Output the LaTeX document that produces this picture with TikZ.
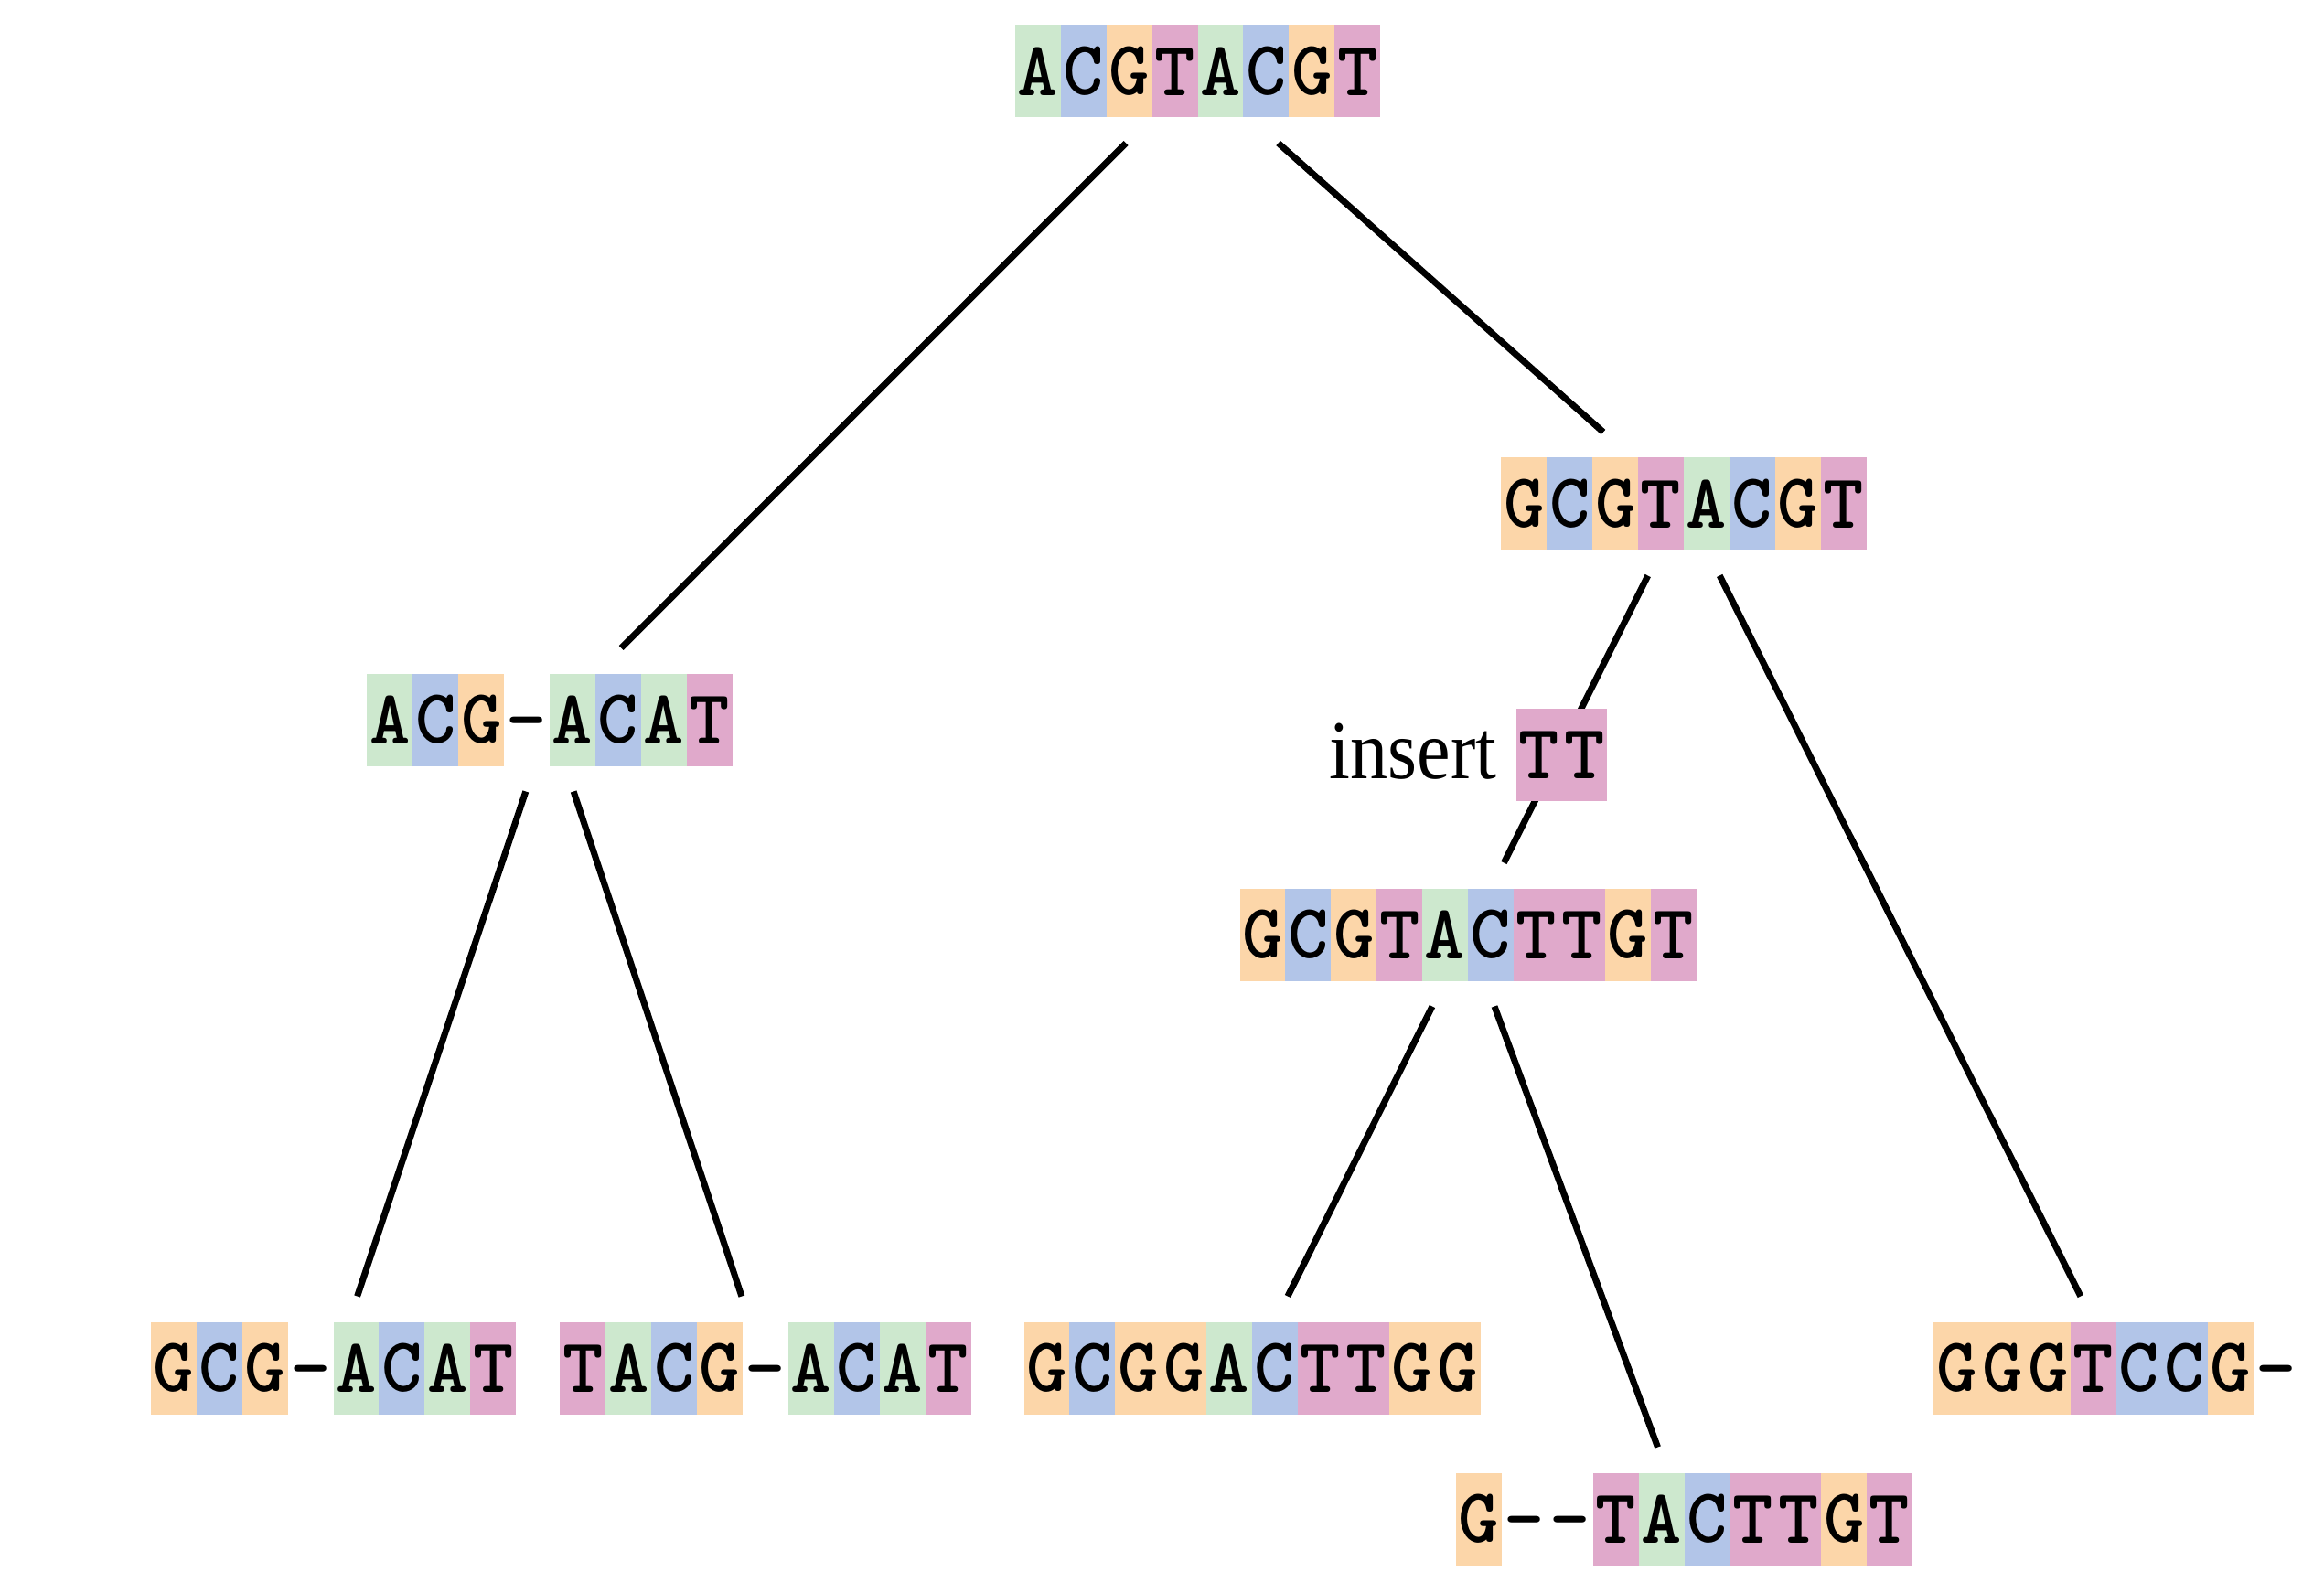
\documentclass[tikz,border=0pt]{standalone}
\usepackage{fontspec}
\newfontfamily\labelfont{Liberation Serif}
\usetikzlibrary{backgrounds}
\definecolor{cA}{RGB}{205,232,206}
\definecolor{cC}{RGB}{178,197,232}
\definecolor{cG}{RGB}{252,214,169}
\definecolor{cT}{RGB}{224,169,203}
\newlength\cellw \setlength\cellw{0.499cm}
\newlength\cellh \setlength\cellh{1.01cm}
\newcommand\seqcell[2]{{\setlength{\fboxsep}{0pt}\colorbox{#1}{\parbox[c][\cellh][c]{\cellw}{\centering\fontsize{24}{24}\selectfont\ttfamily\bfseries\vphantom{A}#2}}}}
\newcommand\seqA{\seqcell{cA}{A}}
\newcommand\seqC{\seqcell{cC}{C}}
\newcommand\seqG{\seqcell{cG}{G}}
\newcommand\seqT{\seqcell{cT}{T}}
\newcommand\seqGap{\seqcell{white}{-}}
\tikzset{
  seqnode/.style={inner sep=0pt, outer sep=0.28cm},
  tagnode/.style={inner sep=0pt, outer sep=0pt},
  edge/.style={line width=2pt, black},
  lbl/.style={inner sep=0pt, font=\labelfont\fontsize{26}{26}\selectfont}
}
\begin{document}
\begin{tikzpicture}
\useasboundingbox (0,0) rectangle (25.41,-17.41);
\node[seqnode] (top) at (13.095,-0.78) {\seqA\seqC\seqG\seqT\seqA\seqC\seqG\seqT};
\node[seqnode] (r2) at (18.41,-5.51) {\seqG\seqC\seqG\seqT\seqA\seqC\seqG\seqT};
\node[seqnode] (l2) at (6.01,-7.87) {\seqA\seqC\seqG\seqGap\seqA\seqC\seqA\seqT};
\node[seqnode] (m3) at (16.05,-10.22) {\seqG\seqC\seqG\seqT\seqA\seqC\seqT\seqT\seqG\seqT};
\node[seqnode] (b1) at (3.645,-14.96) {\seqG\seqC\seqG\seqGap\seqA\seqC\seqA\seqT};
\node[seqnode] (b2) at (8.37,-14.96) {\seqT\seqA\seqC\seqG\seqGap\seqA\seqC\seqA\seqT};
\node[seqnode] (b3) at (13.69,-14.96) {\seqG\seqC\seqG\seqG\seqA\seqC\seqT\seqT\seqG\seqG};
\node[seqnode] (b4) at (23.14,-14.96) {\seqG\seqG\seqG\seqT\seqC\seqC\seqG\seqGap};
\node[seqnode] (b5) at (18.415,-16.61) {\seqG\seqGap\seqGap\seqT\seqA\seqC\seqT\seqT\seqG\seqT};
\node[tagnode] (tt) at (17.075,-8.25) {\seqT\seqT};
\node[lbl, anchor=base east] (ins) at (16.37,-8.51) {\scalebox{0.9}[1]{insert}};
\begin{pgfonlayer}{background}
\draw[edge] (top) -- (l2);
\draw[edge] (top) -- (r2);
\draw[edge] (l2) -- (b1);
\draw[edge] (l2) -- (b2);
\draw[edge] (r2) -- (m3);
\draw[edge] (r2) -- (b4);
\draw[edge] (m3) -- (b3);
\draw[edge] (m3) -- (b5);
\end{pgfonlayer}
\end{tikzpicture}
\end{document}
